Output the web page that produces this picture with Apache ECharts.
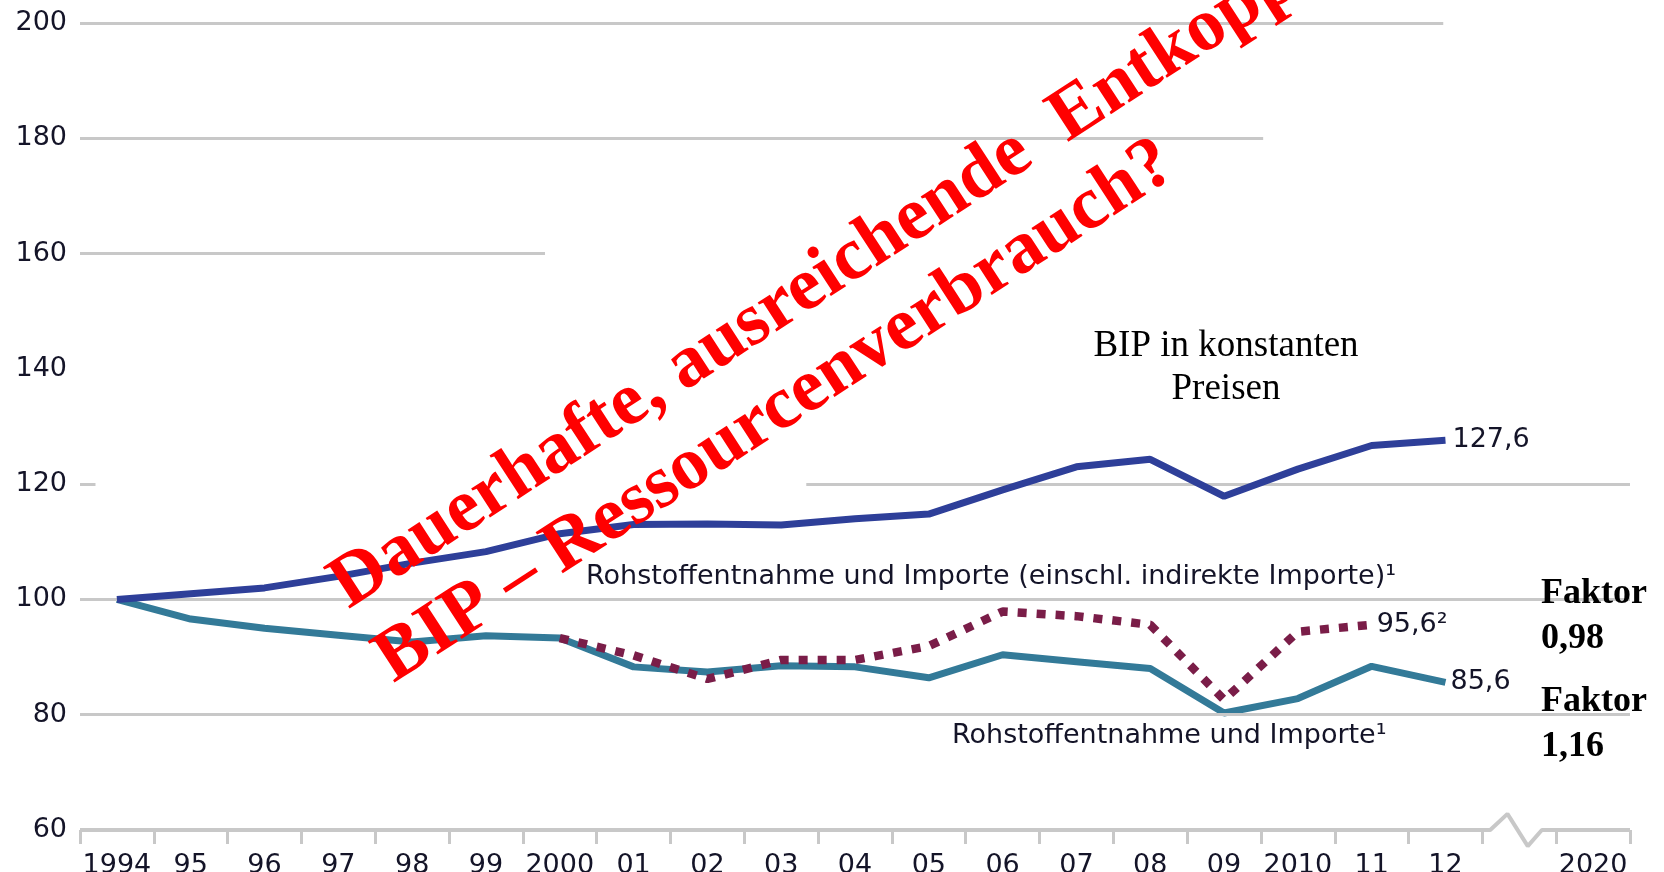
<!DOCTYPE html>
<html><head><meta charset="utf-8">
<script src="https://cdn.jsdelivr.net/npm/echarts@6/dist/echarts.min.js"></script>
<style>html,body{margin:0;padding:0;background:#fff}#c{width:1664px;height:872px}</style>
</head><body><div id="c"></div>
<script>
// ---- data ----
const years = ['1994','95','96','97','98','99','2000','01','02','03','04','05','06','07','08','09','2010','11','12','','2020'];
const yTicks = { min: 60, max: 200, step: 20 };
const bip = [100, 101.0, 102.0, 104.0, 106.3, 108.3, 111.4, 113.0, 113.1, 112.9, 114.0, 114.8, 119.0, 123.0, 124.3, 117.9, 122.6, 126.7, 127.6];
const rohstoffe = [100, 96.6, 95.0, 93.8, 92.6, 93.7, 93.3, 88.3, 87.4, 88.5, 88.3, 86.4, 90.4, 89.2, 88.0, 80.3, 82.8, 88.4, 85.6];
const rohstoffeIndirekt = [null, null, null, null, null, null, 93.3, 90.3, 86.2, 89.5, 89.5, 91.9, 97.9, 97.1, 95.6, 82.6, 94.4, 95.6];
// visible gridline pieces: [value, from band, to band]
const gridPieces = [[200, 0, 18.47], [180, 0, 16.03], [160, 0, 6.3], [120, 0, 0.21], [120, 9.84, 21], [100, 0, 21], [80, 0, 21]];
// x axis line with the break marker
const axisBreak = [[0, 60], [19.106, 60], [19.34, 62.8], [19.615, 57.2], [19.806, 60], [21, 60]];

const fmt = v => String(v.toFixed(1)).replace('.', ',');
const txtColor = '#141428';
const sans = 'DejaVu Sans';

const chart = echarts.init(document.getElementById('c'), null, { renderer: 'canvas' });

const option = {
  backgroundColor: '#ffffff',
  animation: false,
  grid: { left: 80, right: 34, top: 23, bottom: 42, containLabel: false, outerBoundsMode: 'none' },
  xAxis: [
    {
      type: 'category', data: years, boundaryGap: true,
      axisLine: { show: false },
      axisTick: { show: true, interval: 0, length: 14, lineStyle: { color: '#c8c8c8', width: 3 } },
      axisLabel: { interval: 0, margin: 22, fontSize: 27, fontFamily: sans, color: txtColor }
    },
    { type: 'value', min: 0, max: 21, show: false }
  ],
  yAxis: {
    type: 'value', min: yTicks.min, max: yTicks.max, interval: yTicks.step,
    axisLine: { show: false }, axisTick: { show: false }, splitLine: { show: false },
    axisLabel: { margin: 13, fontSize: 27, fontFamily: sans, color: txtColor }
  },
  series: [
    {
      name: 'axis', type: 'line', xAxisIndex: 1, data: axisBreak, symbol: 'none', silent: true, clip: false,
      lineStyle: { color: '#c8c8c8', width: 4 }, z: 1,
      markLine: {
        silent: true, symbol: ['none', 'none'], label: { show: false },
        lineStyle: { color: '#c8c8c8', width: 3, type: 'solid' },
        data: gridPieces.map(p => [{ coord: [p[1], p[0]] }, { coord: [p[2], p[0]] }])
      }
    },
    {
      name: 'Rohstoffentnahme und Importe', type: 'line', symbol: 'none', z: 3,
      data: rohstoffe.map((v, i) => i === 6 ? {
        value: v,
        label: { show: true, position: 'bottom', distance: 19, formatter: p => fmt(p.value), fontSize: 27, fontFamily: sans, color: txtColor }
      } : v),
      lineStyle: { color: '#337a98', width: 7 },
      endLabel: { show: true, distance: 5, formatter: p => fmt(p.value), fontSize: 27, fontFamily: sans, color: txtColor }
    },
    {
      name: 'Rohstoffentnahme und Importe (einschl. indirekte Importe)', type: 'line', symbol: 'none', z: 4,
      data: rohstoffeIndirekt, connectNulls: false,
      lineStyle: { color: '#7a1d48', width: 8.5, type: [9, 10], cap: 'butt' },
      endLabel: { show: true, distance: 5, formatter: p => fmt(p.value) + '²', fontSize: 27, fontFamily: sans, color: txtColor }
    },
    {
      name: 'BIP', type: 'line', symbol: 'none', z: 5,
      data: bip,
      lineStyle: { color: '#2e3f99', width: 7 },
      endLabel: { show: true, distance: 7, formatter: p => fmt(p.value), fontSize: 27, fontFamily: sans, color: txtColor }
    }
  ],
  graphic: [
    { type: 'text', x: 586, y: 577, z: 10, silent: true,
      style: { text: 'Rohstoffentnahme und Importe (einschl. indirekte Importe)¹', font: '27px "DejaVu Sans"', fill: txtColor, textAlign: 'left', textVerticalAlign: 'middle', align: 'left', verticalAlign: 'middle' } },
    { type: 'text', x: 952, y: 736, z: 10, silent: true,
      style: { text: 'Rohstoffentnahme und Importe¹', font: '27px "DejaVu Sans"', fill: txtColor, textAlign: 'left', textVerticalAlign: 'middle', align: 'left', verticalAlign: 'middle' } },
    { type: 'text', x: 1226, y: 346, z: 10, silent: true,
      style: { text: 'BIP in konstanten', font: '37px "Liberation Serif"', fill: '#000', textAlign: 'center', textVerticalAlign: 'middle', align: 'center', verticalAlign: 'middle' } },
    { type: 'text', x: 1226, y: 389, z: 10, silent: true,
      style: { text: 'Preisen', font: '37px "Liberation Serif"', fill: '#000', textAlign: 'center', textVerticalAlign: 'middle', align: 'center', verticalAlign: 'middle' } },
    { type: 'text', x: 1541, y: 594, z: 10, silent: true,
      style: { text: 'Faktor', font: 'bold 36px "Liberation Serif"', fill: '#000', textAlign: 'left', textVerticalAlign: 'middle', align: 'left', verticalAlign: 'middle' } },
    { type: 'text', x: 1541, y: 639, z: 10, silent: true,
      style: { text: '0,98', font: 'bold 36px "Liberation Serif"', fill: '#000', textAlign: 'left', textVerticalAlign: 'middle', align: 'left', verticalAlign: 'middle' } },
    { type: 'text', x: 1541, y: 702, z: 10, silent: true,
      style: { text: 'Faktor', font: 'bold 36px "Liberation Serif"', fill: '#000', textAlign: 'left', textVerticalAlign: 'middle', align: 'left', verticalAlign: 'middle' } },
    { type: 'text', x: 1541, y: 747, z: 10, silent: true,
      style: { text: '1,16', font: 'bold 36px "Liberation Serif"', fill: '#000', textAlign: 'left', textVerticalAlign: 'middle', align: 'left', verticalAlign: 'middle' } },
    { type: 'text', x: 338, y: 593, rotation: 33 * Math.PI / 180, z: 20, silent: true,
      style: { text: 'Dauerhafte, ausreichende  Entkopplung', font: 'bold 75px "Liberation Serif"', fill: '#ff0000', textAlign: 'left', textVerticalAlign: 'middle', align: 'left', verticalAlign: 'middle' } },
    { type: 'text', x: 383, y: 667, rotation: 33 * Math.PI / 180, z: 20, silent: true,
      style: { text: 'BIP – Ressourcenverbrauch?', font: 'bold 75px "Liberation Serif"', fill: '#ff0000', textAlign: 'left', textVerticalAlign: 'middle', align: 'left', verticalAlign: 'middle' } }
  ]
};
chart.setOption(option);
</script>
</body></html>
